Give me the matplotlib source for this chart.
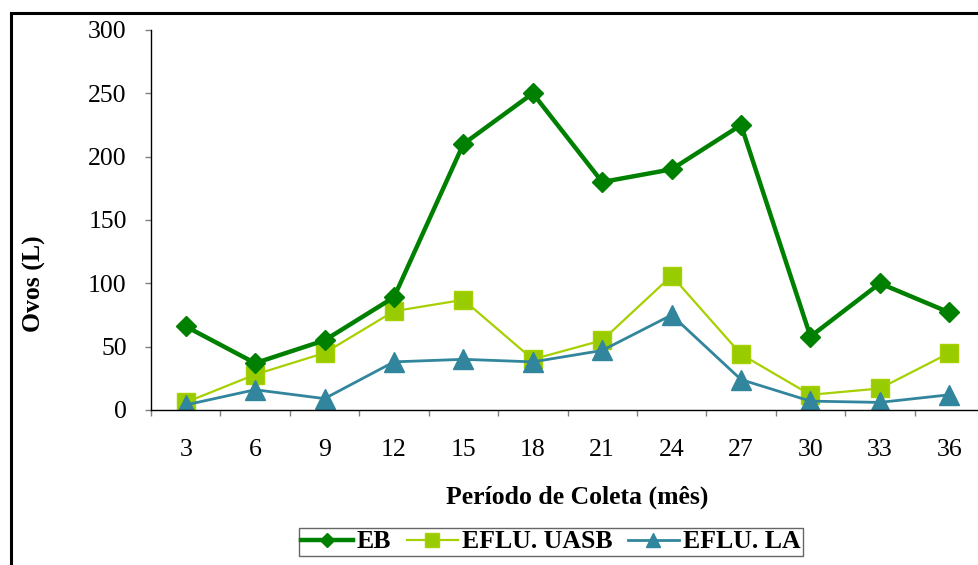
import matplotlib
matplotlib.use('Agg')
import matplotlib.pyplot as plt
from matplotlib.patches import Rectangle

plt.rcParams['font.family'] = ['Liberation Serif', 'DejaVu Serif']

# data
meses = ['3', '6', '9', '12', '15', '18', '21', '24', '27', '30', '33', '36']
eb = [66, 37, 55, 89, 210, 250, 180, 190, 225, 58, 100, 77]
eflu_uasb = [6, 28, 45, 78, 87, 40, 55, 106, 44, 12, 17, 45]
eflu_la = [4, 16, 9, 38, 40, 38, 47, 75, 24, 7, 6, 12]
y_ticks = [0, 50, 100, 150, 200, 250, 300]

fs = 18.5
W, H = 979, 565
fig = plt.figure(figsize=(W / 100, H / 100), dpi=100)
ax = fig.add_axes([151 / W, 1 - 410 / H, (984 - 151) / W, 380 / H])

x = [i + 0.5 for i in range(len(meses))]
ax.plot(x, eb, color='#008000', lw=3.2, marker='D', ms=10,
        mfc='#008000', mec='#008000', label='EB', zorder=3)
ax.plot(x, eflu_uasb, color='#A6D000', lw=1.6, marker='s', ms=13.5,
        mfc='#99CC00', mec='#A6D000', label='EFLU. UASB', zorder=2)
ax.plot(x, eflu_la, color='#31859C', lw=2, marker='^', ms=14,
        mfc='#31859C', mec='#31859C', label='EFLU. LA', zorder=2)

ax.set_xlim(0, len(meses))
ax.set_ylim(0, 300)
ax.set_yticks(y_ticks)
ax.set_yticklabels([str(v) for v in y_ticks], fontsize=fs)
ax.set_xticks(range(len(meses) + 1))
ax.set_xticklabels([])
ax.set_xticks(x, minor=True)
ax.set_xticklabels(meses, minor=True, fontsize=fs)
ax.tick_params(axis='x', which='major', length=4.5, color='#808080', width=1)
ax.tick_params(axis='x', which='minor', length=0, pad=21)
ax.tick_params(axis='y', length=4.5, color='#808080', width=1, pad=13)
for s in ['top', 'right']:
    ax.spines[s].set_visible(False)
for s in ['left', 'bottom']:
    ax.spines[s].set_color('black')
    ax.spines[s].set_linewidth(1)

fig.text(34 / W, 1 - 284 / H, 'Ovos (L)', rotation=90, fontsize=fs,
         fontweight='bold', ha='center', va='center')
fig.text(577 / W, 1 - 497 / H, 'Período de Coleta (mês)', fontsize=fs,
         fontweight='bold', ha='center', va='center')

leg = fig.legend(loc='center', bbox_to_anchor=(551 / W, 1 - 542 / H), ncol=3,
                 prop={'size': fs, 'weight': 'bold'}, fancybox=False,
                 edgecolor='#404040', markerscale=0.72, handlelength=2.0,
                 handletextpad=0.15, columnspacing=0.6, borderpad=0.1,
                 borderaxespad=0)
leg.get_frame().set_linewidth(1)

# outer chart border (only left and top are inside the image)
fig.patches.append(Rectangle((11 / W, -0.1), 1.2, 1.1 - 13 / H, fill=False,
                             lw=2.2, edgecolor='black',
                             transform=fig.transFigure, clip_on=False))

fig.savefig('out.png', dpi=100)
